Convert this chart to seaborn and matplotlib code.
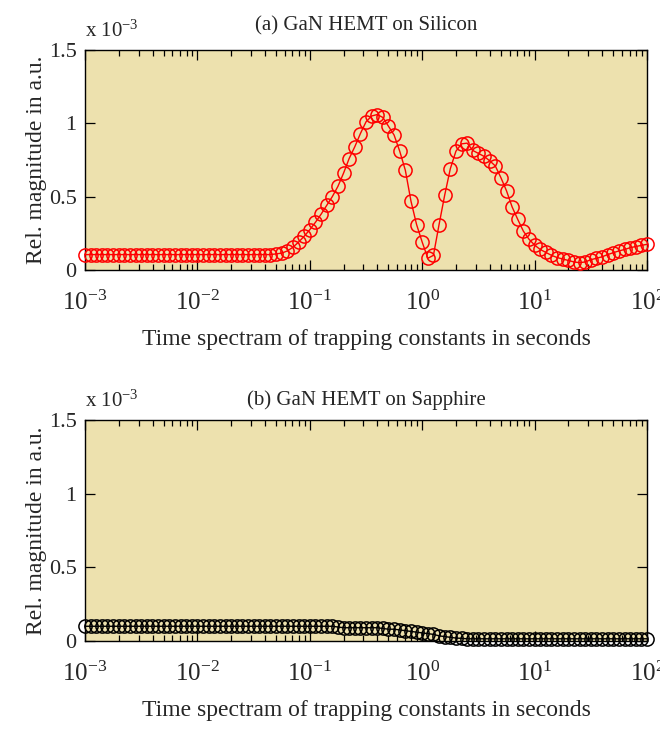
import numpy as np
import pandas as pd
import matplotlib
matplotlib.use("Agg")
import matplotlib.pyplot as plt
import seaborn as sns
from matplotlib.ticker import FixedLocator, LogLocator, NullFormatter, FixedFormatter

# ---- data -------------------------------------------------------------
time_s = np.logspace(-3, 2, 101)  # time-constant grid, 20 points per decade

silicon_e3 = (
    [0.105] * 34 +
    [0.11, 0.115, 0.13, 0.155, 0.19, 0.23, 0.275, 0.325, 0.38, 0.44,
     0.50, 0.57, 0.66, 0.76, 0.84, 0.93, 1.01, 1.05, 1.06, 1.04,
     0.98, 0.92, 0.81, 0.68, 0.47, 0.31, 0.19, 0.08, 0.10, 0.31,
     0.51, 0.69, 0.81, 0.86, 0.865, 0.815, 0.795, 0.775, 0.745, 0.71,
     0.63, 0.54, 0.43, 0.345, 0.265, 0.21, 0.17, 0.14, 0.12, 0.10,
     0.085, 0.075, 0.065, 0.055, 0.05, 0.055, 0.07, 0.08, 0.09, 0.105,
     0.118, 0.13, 0.14, 0.152, 0.16, 0.168, 0.175]
)

sapphire_e3 = (
    [0.10] * 45 +
    [0.095] +
    [0.09] * 7 +
    [0.085, 0.08, 0.08, 0.075, 0.07, 0.065, 0.06, 0.055, 0.05, 0.045,
     0.035, 0.03, 0.025, 0.02, 0.018] +
    [0.015] * 33
)

titles = ["(a) GaN HEMT on Silicon", "(b) GaN HEMT on Sapphire"]
title_pads = [14, 11]
colors = ["#ff0000", "#000000"]
ytick_vals = [0, 0.5, 1, 1.5]
ytick_labels = ["0", "0.5", "1", "1.5"]
xlabel = "Time spectram of trapping constants in seconds"
ylabel = "Rel. magnitude in a.u."

# ---- style ------------------------------------------------------------
sns.set_theme(style="ticks")
plt.rcParams["font.family"] = ["Liberation Serif", "DejaVu Serif"]
plt.rcParams["mathtext.fontset"] = "custom"
plt.rcParams["mathtext.rm"] = "Liberation Serif"
plt.rcParams["mathtext.it"] = "Liberation Serif"
plt.rcParams["mathtext.bf"] = "Liberation Serif"

fig = plt.figure(figsize=(6.6, 7.29), dpi=100)
ax_top = fig.add_axes([85 / 660, 1 - 270 / 729, 562 / 660, 220 / 729])
ax_bot = fig.add_axes([85 / 660, 1 - 641 / 729, 562 / 660, 221 / 729])

bg = "#ede1ae"
for ax, yvals, title, tpad, col in zip([ax_top, ax_bot], [silicon_e3, sapphire_e3],
                                        titles, title_pads, colors):
    df = pd.DataFrame({"t": time_s, "v": yvals})
    sns.lineplot(data=df, x="t", y="v", ax=ax, color=col, lw=1.0, marker="o",
                 markersize=9.5, markerfacecolor="none", markeredgecolor=col,
                 markeredgewidth=1.1, sort=False, estimator=None, clip_on=False,
                 zorder=5)
    ax.set_facecolor(bg)
    ax.set_xscale("log")
    ax.set_xlim(1e-3, 1e2)
    ax.set_ylim(0, 1.5)
    ax.yaxis.set_major_locator(FixedLocator(ytick_vals))
    ax.yaxis.set_major_formatter(FixedFormatter(ytick_labels))
    ax.xaxis.set_major_locator(LogLocator(base=10, numticks=10))
    ax.xaxis.set_minor_locator(LogLocator(base=10, subs=np.arange(2, 10), numticks=20))
    ax.xaxis.set_minor_formatter(NullFormatter())
    ax.tick_params(axis="both", which="both", direction="in", top=True, right=True,
                   color="black", width=0.9)
    ax.tick_params(axis="both", which="major", length=7)
    ax.tick_params(axis="both", which="minor", length=4)
    ax.tick_params(axis="x", which="major", labelsize=18, pad=15)
    ax.tick_params(axis="y", which="major", labelsize=16, pad=6)
    for s in ax.spines.values():
        s.set_color("black")
        s.set_linewidth(1.0)
    ax.set_xlabel(xlabel, fontsize=17, labelpad=10)
    ax.set_ylabel(ylabel, fontsize=17, labelpad=1)
    ax.set_title(title, fontsize=15, pad=tpad)
    ax.text(0.0, 1.06, r"x $\mathregular{10^{-3}}$", transform=ax.transAxes,
            fontsize=15, ha="left", va="baseline")
    ax.grid(False)

fig.savefig("out.png", dpi=100)
